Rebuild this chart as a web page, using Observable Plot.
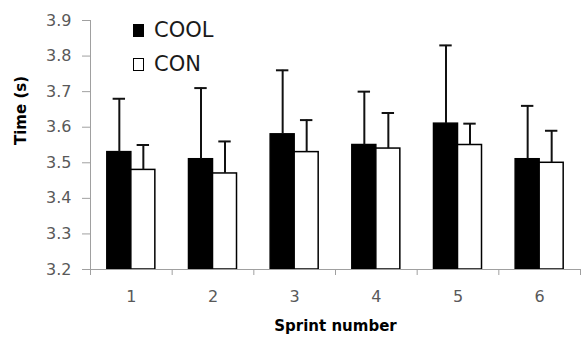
<!DOCTYPE html>
<html>
<head>
<meta charset="utf-8">
<script src="https://cdn.jsdelivr.net/npm/d3@7"></script>
<script src="https://cdn.jsdelivr.net/npm/@observablehq/plot@0.6"></script>
<style>
  html, body { margin: 0; padding: 0; background: #fff; }
  #wrap { position: relative; width: 582px; height: 339px; }
  .leg { position: absolute; left: 133px; font-family: "DejaVu Sans", sans-serif; font-size: 21px; color: #1a1a1a; line-height: 1; white-space: nowrap; }
  .sw { display: inline-block; width: 11px; height: 13px; box-sizing: border-box; border: 1.5px solid #000; vertical-align: baseline; margin-right: 10px; }
</style>
</head>
<body>
<div id="wrap"></div>
<script>
// Data
const sprints = [1, 2, 3, 4, 5, 6];
const coolMean = [3.53, 3.51, 3.58, 3.55, 3.61, 3.51];
const coolSD   = [0.15, 0.20, 0.18, 0.15, 0.22, 0.15];
const conMean  = [3.48, 3.47, 3.53, 3.54, 3.55, 3.50];
const conSD    = [0.07, 0.09, 0.09, 0.10, 0.06, 0.09];
const yTicks = [3.2, 3.3, 3.4, 3.5, 3.6, 3.7, 3.8, 3.9];
const seriesNames = ["COOL", "CON"];
const xTitle = "Sprint number";
const yTitle = "Time (s)";

// layout constants (in sprint units)
const BAR = 0.294;   // bar width
const CAP = 0.076;   // half cap width

const rows = [];
sprints.forEach((s, i) => {
  rows.push({sprint: s, series: "COOL", mean: coolMean[i], sd: coolSD[i], pos: s - BAR / 2});
  rows.push({sprint: s, series: "CON", mean: conMean[i], sd: conSD[i], pos: s + BAR / 2});
});
const boundaries = [0.5, ...sprints.map(s => s + 0.5)];
const axisGray = "#a0a0a0";

const chart = Plot.plot({
  width: 582,
  height: 339,
  marginLeft: 90,
  marginRight: 2,
  marginTop: 20,
  marginBottom: 70,
  style: {fontFamily: "DejaVu Sans, sans-serif", fontSize: "16px", color: "#595959", background: "#fff"},
  x: {type: "linear", domain: [0.5, 6.5]},
  y: {domain: [3.2, 3.9]},
  marks: [
    Plot.axisY({ticks: yTicks, tickSize: 8, tickPadding: 11, tickFormat: d3.format(".1f"), stroke: axisGray, fill: "#595959", label: null}),
    Plot.axisX({ticks: boundaries, tickSize: 6, tickFormat: () => "", stroke: axisGray, label: null}),
    Plot.axisX({ticks: sprints, tickSize: 0, tickPadding: 21, tickFormat: d => String(d), fill: "#595959", label: null}),
    Plot.rectY(rows, {
      x1: d => d.series === "COOL" ? d.sprint - BAR : d.sprint,
      x2: d => d.series === "COOL" ? d.sprint : d.sprint + BAR,
      y1: 3.2, y2: "mean",
      fill: d => d.series === "COOL" ? "#000" : "#fff",
      stroke: "#000", strokeWidth: 1.5
    }),
    Plot.ruleX(rows, {x: "pos", y1: "mean", y2: d => d.mean + d.sd, stroke: "#111", strokeWidth: 2}),
    Plot.ruleY(rows, {y: d => d.mean + d.sd, x1: d => d.pos - CAP, x2: d => d.pos + CAP, stroke: "#111", strokeWidth: 2}),
    Plot.ruleX([0.5], {y1: 3.2, y2: 3.9, stroke: axisGray}),
    Plot.ruleY([3.2], {stroke: axisGray}),
    Plot.text([xTitle], {frameAnchor: "bottom", dy: 61, fontWeight: "bold", fontSize: 15, fill: "#000"}),
    Plot.text([yTitle], {frameAnchor: "left", dx: -69, rotate: -90, fontWeight: "bold", fontSize: 15, fill: "#000"})
  ]
});

const wrap = document.getElementById("wrap");
wrap.appendChild(chart);

// legend (inside plot area, as in the reference)
const legTops = [20, 54];
seriesNames.forEach((name, i) => {
  const div = document.createElement("div");
  div.className = "leg";
  div.style.top = legTops[i] + "px";
  const sw = document.createElement("span");
  sw.className = "sw";
  sw.style.background = name === "COOL" ? "#000" : "#fff";
  div.appendChild(sw);
  div.appendChild(document.createTextNode(name));
  wrap.appendChild(div);
});
</script>
</body>
</html>
